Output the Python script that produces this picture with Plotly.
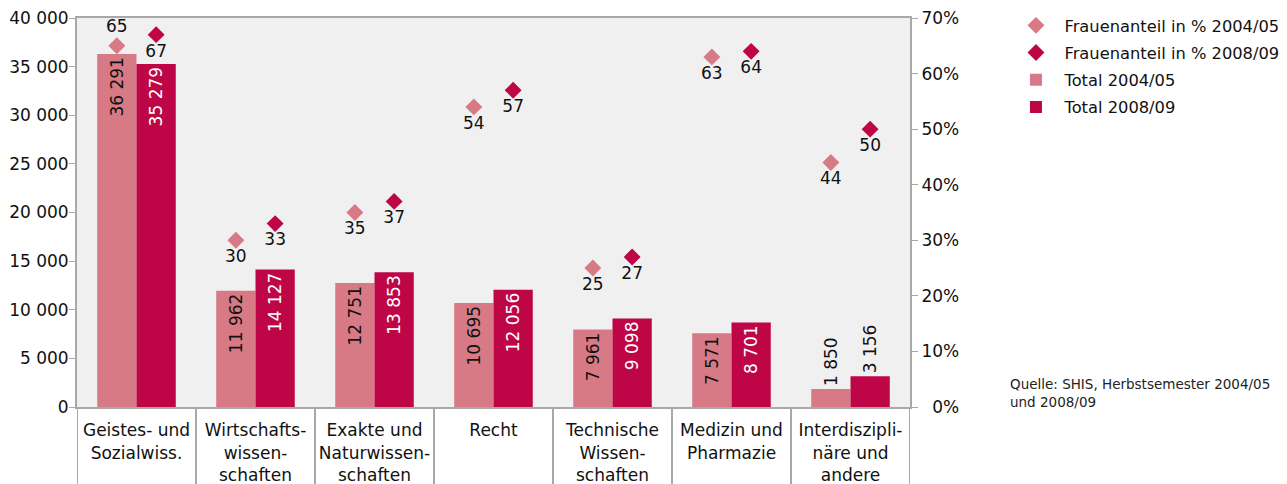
import plotly.graph_objects as go

categories = ["Geistes- und<br>Sozialwiss.", "Wirtschafts-<br>wissen-<br>schaften",
              "Exakte und<br>Naturwissen-<br>schaften", "Recht",
              "Technische<br>Wissen-<br>schaften", "Medizin und<br>Pharmazie",
              "Interdiszipli-<br>näre und<br>andere"]
total_2004 = [36291, 11962, 12751, 10695, 7961, 7571, 1850]
total_2008 = [35279, 14127, 13853, 12056, 9098, 8701, 3156]
frauen_2004 = [65, 30, 35, 54, 25, 63, 44]
frauen_2008 = [67, 33, 37, 57, 27, 64, 50]
left_ticks = [0, 5000, 10000, 15000, 20000, 25000, 30000, 35000, 40000]
right_ticks = [0, 10, 20, 30, 40, 50, 60, 70]

LIGHT = "#D77A85"
DARK = "#BE0646"
GREY = "#A8A8A8"
FONT = "DejaVu Sans"
FS = 17
w = 0.33

def fmt(v):
    return f"{v:,}".replace(",", " ")

idx = list(range(len(categories)))
x_a = [i - w / 2 for i in idx]
x_b = [i + w / 2 for i in idx]

# short bars get their label above the bar
pos_a = ["outside" if v < 5000 else "inside" for v in total_2004]
pos_b = ["outside" if v < 5000 else "inside" for v in total_2008]
col_b = ["#111111" if v < 5000 else "white" for v in total_2008]

fig = go.Figure()
fig.add_trace(go.Scatter(x=x_a, y=frauen_2004, yaxis="y2", mode="markers+text",
                         name="Frauenanteil in % 2004/05", legendgroup="a",
                         marker=dict(symbol="diamond", size=13, color=LIGHT),
                         text=[str(v) for v in frauen_2004],
                         textposition=["top center"] + ["bottom center"] * 6,
                         textfont=dict(size=FS, color="#111111"),
                         cliponaxis=False))
fig.add_trace(go.Scatter(x=x_b, y=frauen_2008, yaxis="y2", mode="markers+text",
                         name="Frauenanteil in % 2008/09", legendgroup="b",
                         marker=dict(symbol="diamond", size=13, color=DARK),
                         text=[str(v) for v in frauen_2008],
                         textposition="bottom center",
                         textfont=dict(size=FS, color="#111111"),
                         cliponaxis=False))
fig.add_trace(go.Bar(x=x_a, y=total_2004, width=w, name="Total 2004/05",
                     legendgroup="c",
                     marker=dict(color=LIGHT, line=dict(width=0)),
                     text=[fmt(v) for v in total_2004], textposition=pos_a,
                     insidetextanchor="end", textangle=-90,
                     textfont=dict(size=FS, color="#111111"), cliponaxis=False))
fig.add_trace(go.Bar(x=x_b, y=total_2008, width=w, name="Total 2008/09",
                     legendgroup="d",
                     marker=dict(color=DARK, line=dict(width=0)),
                     text=[fmt(v) for v in total_2008], textposition=pos_b,
                     insidetextanchor="end", textangle=-90,
                     textfont=dict(size=FS, color=col_b), cliponaxis=False))

# separators between categories below the axis
for k in range(len(categories) + 1):
    fig.add_shape(type="line", xref="x", yref="paper", x0=k - 0.5, x1=k - 0.5,
                  y0=0, y1=-0.22, line=dict(color=GREY, width=2))

fig.add_annotation(text="Quelle: SHIS, Herbstsemester 2004/05<br>und 2008/09",
                   xref="paper", yref="paper", x=1.118, y=0.035, xanchor="left",
                   yanchor="middle", align="left", showarrow=False,
                   font=dict(size=13.5, color="#222222"))

# page body has an 8px default margin, so the figure is 8px smaller
fig.update_layout(
    width=1279, height=476,
    margin=dict(l=69, r=377, t=10, b=77, autoexpand=False),
    paper_bgcolor="white", plot_bgcolor="#F0F0F0",
    font=dict(family=FONT, size=FS, color="#111111"),
    barmode="overlay",
    uniformtext=dict(minsize=FS, mode="show"),
    xaxis=dict(range=[-0.5, 6.5], tickvals=idx, ticktext=categories,
               showgrid=False, zeroline=False, showline=True, mirror=True,
               linecolor=GREY, linewidth=2, ticks="", automargin=False,
               fixedrange=True, ticklabelstandoff=7),
    yaxis=dict(range=[0, 40000], tickvals=left_ticks,
               ticktext=[fmt(v) for v in left_ticks],
               showgrid=False, zeroline=False, showline=True,
               linecolor=GREY, linewidth=2, ticks="outside",
               ticklen=6, tickcolor=GREY, automargin=False,
               ticklabelstandoff=-3, ticklabeloverflow="allow"),
    yaxis2=dict(range=[0, 70], overlaying="y", side="right", tickvals=right_ticks,
                ticktext=[("\u2007" if v < 10 else "") + f"{v}%" for v in right_ticks],
                showgrid=False, zeroline=False, showline=True,
                linecolor=GREY, linewidth=2, ticks="outside",
                ticklen=6, tickcolor=GREY, automargin=False,
                ticklabeloverflow="allow"),
    legend=dict(x=1.117, y=1.025, xanchor="left", yanchor="top",
                font=dict(size=16.3), bgcolor="rgba(0,0,0,0)",
                tracegroupgap=3, itemwidth=47),
    showlegend=True,
)

fig.write_html("out.html")
